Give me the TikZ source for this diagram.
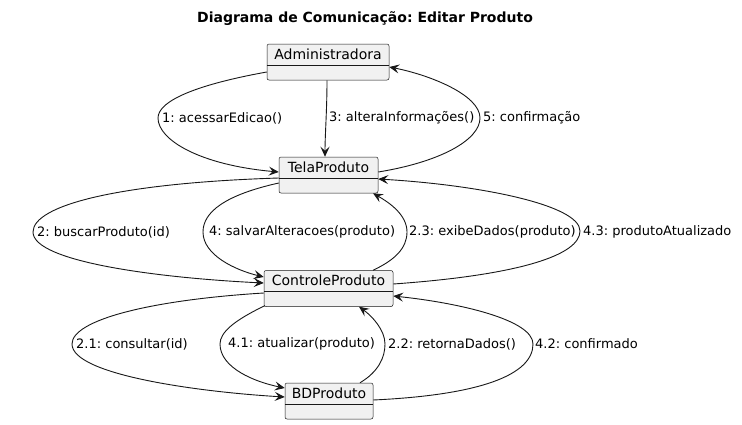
\documentclass[tikz,border=0pt]{standalone}
\usepackage{fontspec}
\setmainfont{DejaVu Sans}
\usetikzlibrary{arrows.meta}
\definecolor{boxfill}{HTML}{F1F1F1}
\definecolor{ink}{HTML}{181818}
\tikzset{
  umlbox/.style={draw=ink, line width=0.5pt, fill=boxfill, rounded corners=2pt, inner sep=0pt, minimum height=36pt},
  boxname/.style={inner sep=0pt, font=\fontsize{14}{16}\selectfont, text=black},
  divider/.style={draw=ink, line width=0.5pt},
  conn/.style={draw=ink, line width=0.9pt, -{Stealth[length=10pt,width=9pt,inset=4pt]}},
  lbl/.style={anchor=west, inner sep=0pt, font=\fontsize{13}{15}\selectfont, text=black},
}
\begin{document}
\frenchspacing
\begin{tikzpicture}[x=1pt, y=-1pt]
\useasboundingbox[fill=white] (0,0) rectangle (742,424);
\node[font=\bfseries\fontsize{14}{16}\selectfont, inner sep=0pt] (title) at (365,19) {Diagrama de Comunicação: Editar Produto};

% boxes
\node[umlbox, minimum width=122pt] (adm) at (328,62) {};
\node[boxname] (admn) at ([yshift=-10.5pt]adm.north) {Administradora};
\draw[divider] ([yshift=-21pt]adm.north west) -- ([yshift=-21pt]adm.north east);

\node[umlbox, minimum width=99pt] (tela) at (328.5,175) {};
\node[boxname] (telan) at ([yshift=-10.5pt]tela.north) {TelaProduto};
\draw[divider] ([yshift=-21pt]tela.north west) -- ([yshift=-21pt]tela.north east);

\node[umlbox, minimum width=129pt] (ctrl) at (328.5,288.5) {};
\node[boxname] (ctrln) at ([yshift=-10.5pt]ctrl.north) {ControleProduto};
\draw[divider] ([yshift=-21pt]ctrl.north west) -- ([yshift=-21pt]ctrl.north east);

\node[umlbox, minimum width=88pt] (bd) at (329,401) {};
\node[boxname] (bdn) at ([yshift=-10.5pt]bd.north) {BDProduto};
\draw[divider] ([yshift=-21pt]bd.north west) -- ([yshift=-21pt]bd.north east);

% connectors
\draw[conn] ([yshift=-10pt]adm.west) .. controls (200,84) and (158,100) .. (158,118) .. controls (158,140) and (200,165) .. ([yshift=3pt]tela.west);
\draw[conn] ([xshift=-1pt]adm.south) .. controls (327,110) and (325,135) .. ([xshift=-3.5pt]tela.north);
\draw[conn] ([yshift=3pt]tela.east) .. controls (440,162) and (480,140) .. (480,118) .. controls (480,95) and (430,75) .. ([yshift=-5pt]adm.east);

\draw[conn] ([yshift=-3pt]tela.west) .. controls (120,183) and (33,205) .. (33,232) .. controls (33,262) and (160,278) .. ([yshift=5.5pt]ctrl.west);
\draw[conn] ([yshift=-8pt]tela.west) .. controls (225,195) and (203,212) .. (203,232) .. controls (203,255) and (235,270) .. ([yshift=11.5pt]ctrl.west);
\draw[conn] ([xshift=44.5pt]ctrl.north) .. controls (395,260) and (407,248) .. (407,232) .. controls (407,215) and (390,203) .. ([xshift=44.5pt]tela.south);
\draw[conn] ([yshift=4.5pt]ctrl.east) .. controls (520,275) and (580,255) .. (580,231) .. controls (580,205) and (480,185) .. ([yshift=-4pt]tela.east);

\draw[conn] ([yshift=-4.5pt]ctrl.west) .. controls (150,300) and (72,320) .. (72,344) .. controls (72,375) and (200,392) .. ([yshift=4pt]bd.west);
\draw[conn] ([xshift=1pt,yshift=1pt]ctrl.south west) .. controls (235,320) and (220,332) .. (220,344) .. controls (220,368) and (255,382) .. ([yshift=13pt]bd.west);
\draw[conn] ([xshift=31pt]bd.north) .. controls (378,372) and (385,358) .. (385,344) .. controls (385,330) and (372,316) .. ([xshift=30.5pt]ctrl.south);
\draw[conn] ([yshift=1pt]bd.east) .. controls (480,395) and (533,375) .. (533,344) .. controls (533,320) and (460,303) .. ([yshift=-7.5pt]ctrl.east);

% labels
\node[lbl] (l1) at (162,118) {1: acessarEdicao()};
\node[lbl] (l3) at (329,118) {3: alteraInformações()};
\node[lbl] (l5) at (483,118) {5: confirmação};
\node[lbl] (l2) at (37,232) {2: buscarProduto(id)};
\node[lbl] (l4) at (209,232) {4: salvarAlteracoes(produto)};
\node[lbl] (l23) at (409,232) {2.3: exibeDados(produto)};
\node[lbl] (l43) at (583,232) {4.3: produtoAtualizado};
\node[lbl] (l21) at (76,344) {2.1: consultar(id)};
\node[lbl] (l41) at (228,344) {4.1: atualizar(produto)};
\node[lbl] (l22) at (388,344) {2.2: retornaDados()};
\node[lbl] (l42) at (535,344) {4.2: confirmado};
\end{tikzpicture}
\end{document}
